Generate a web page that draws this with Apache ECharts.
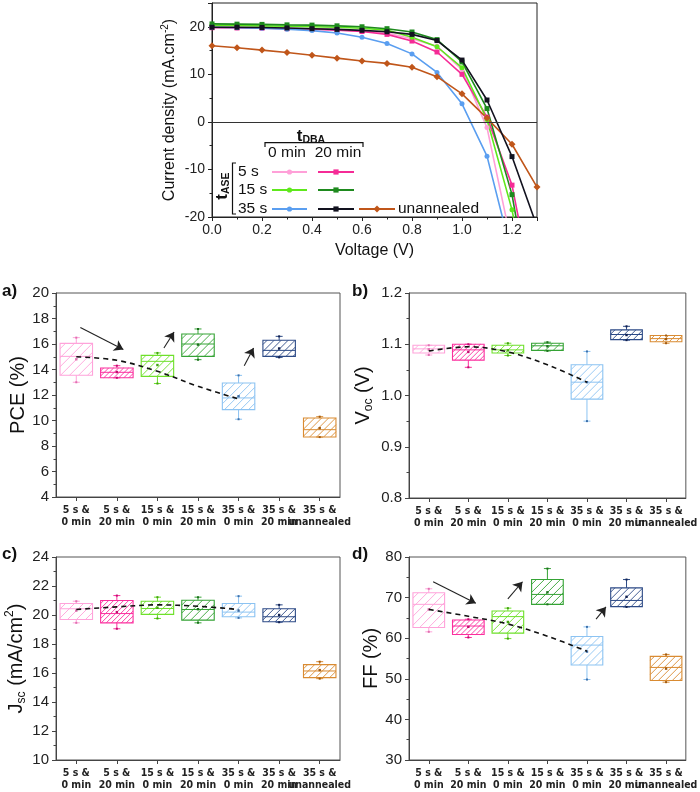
<!DOCTYPE html>
<html><head><meta charset="utf-8">
<script src="https://cdn.jsdelivr.net/npm/echarts@6/dist/echarts.min.js"></script>
<style>html,body{margin:0;padding:0;background:#fff}#c{width:700px;height:792px}</style>
</head><body><div id="c"></div>
<script>
// ---------- J-V curves ----------
const voltage = [0, 0.1, 0.2, 0.3, 0.4, 0.5, 0.6, 0.7, 0.8, 0.9, 1.0, 1.1, 1.2, 1.3];
const j5s0min   = [19.9, 19.85, 19.8, 19.7, 19.6, 19.4, 19.1, 18.7, 17.5, 15.9, 11.0, -1.2, -26];
const j5s20min  = [19.8, 19.75, 19.7, 19.6, 19.5, 19.3, 19.0, 18.4, 17.0, 14.7, 10.0, 1.0, -13.3, -40];
const j15s0min  = [20.3, 20.3, 20.2, 20.1, 20.0, 19.9, 19.7, 19.3, 17.8, 15.8, 11.4, 0.5, -18.5, -45];
const j15s20min = [20.6, 20.55, 20.5, 20.4, 20.35, 20.2, 20.0, 19.6, 18.9, 17.3, 12.6, 2.8, -15.3, -45];
const j35s0min  = [19.9, 19.8, 19.7, 19.5, 19.2, 18.7, 17.8, 16.5, 14.3, 10.4, 3.8, -7.2, -28];
const j35s20min = [19.9, 19.9, 19.85, 19.75, 19.6, 19.45, 19.25, 18.95, 18.4, 17.1, 13.0, 4.6, -7.3, -22];
const jUnann    = [16.0, 15.6, 15.1, 14.6, 14.0, 13.4, 12.8, 12.3, 11.5, 9.5, 5.9, 0.8, -4.7, -13.7];

// ---------- box statistics: [min, Q1, median, Q3, max, mean] ----------
const categories = ['5 s &\n0 min', '5 s &\n20 min', '15 s &\n0 min', '15 s &\n20 min', '35 s &\n0 min', '35 s &\n20 min', '35 s &\nunannealed'];
const pceStats = [
  [13.0, 13.55, 15.03, 16.05, 16.5, 14.8],
  [13.35, 13.35, 13.78, 14.12, 14.3, 13.8],
  [12.9, 13.46, 14.64, 15.11, 15.3, 14.35],
  [14.77, 15.03, 16.0, 16.78, 17.18, 15.95],
  [10.1, 10.85, 11.77, 12.94, 13.54, 11.9],
  [14.95, 15.03, 15.5, 16.29, 16.6, 15.65],
  [8.7, 8.71, 9.28, 10.2, 10.3, 9.4]
];
const vocStats = [
  [1.079, 1.083, 1.091, 1.098, 1.098, 1.090],
  [1.055, 1.069, 1.089, 1.100, 1.100, 1.085],
  [1.078, 1.083, 1.089, 1.098, 1.102, 1.088],
  [1.087, 1.088, 1.097, 1.102, 1.104, 1.096],
  [0.950, 0.993, 1.026, 1.060, 1.086, 1.026],
  [1.108, 1.109, 1.119, 1.128, 1.135, 1.118],
  [1.102, 1.105, 1.111, 1.117, 1.117, 1.110]
];
const jscStats = [
  [19.46, 19.69, 20.43, 20.79, 20.95, 20.3],
  [19.05, 19.46, 20.1, 21.0, 21.34, 20.2],
  [19.76, 20.04, 20.45, 20.95, 21.23, 20.5],
  [19.46, 19.65, 20.38, 21.02, 21.23, 20.4],
  [19.8, 19.88, 20.2, 20.79, 21.3, 20.3],
  [19.5, 19.53, 19.88, 20.43, 20.7, 20.0],
  [15.61, 15.68, 16.14, 16.58, 16.78, 16.2]
];
const ffStats = [
  [61.57, 62.63, 68.34, 71.19, 72.17, 67.1],
  [60.18, 60.9, 63.0, 64.5, 64.67, 62.8],
  [59.9, 61.24, 65.32, 66.7, 67.4, 64.0],
  [68.34, 68.34, 70.78, 74.45, 77.15, 71.3],
  [49.82, 53.41, 58.3, 60.42, 62.79, 56.7],
  [67.7, 67.77, 69.3, 72.4, 74.45, 70.2],
  [49.17, 49.58, 52.8, 55.53, 56.0, 52.5]
];
// dashed trend lines [category position, value]
const pceTrend = [[0, 15.0], [1, 14.72], [2, 13.86], [3, 12.68], [4, 11.69]];
const vocTrend = [[0, 1.087], [1, 1.095], [2, 1.085], [3, 1.06], [4, 1.026]];
const jscTrend = [[0, 20.38], [1, 20.56], [2, 20.7], [3, 20.6], [4, 20.38]];
const ffTrend  = [[0, 67.1], [1, 65.4], [2, 63.5], [3, 60.5], [4, 56.8]];
// arrows [start, end]
const pceArrows = [[[0.1, 17.3], [1.16, 15.56]], [[2.16, 15.69], [2.41, 16.94]], [[4.14, 14.3], [4.37, 15.69]]];
const ffArrows  = [[[0.11, 73.9], [1.19, 68.6]], [[2.0, 69.7], [2.37, 73.9]], [[4.23, 64.7], [4.48, 67.7]]];

const boxColors = ['#ffa3da', '#fb2f9e', '#6ee02a', '#35a335', '#8cc3f2', '#2c4a86', '#d98b32'];
const meanColors = ['#e070b0', '#c01070', '#40a010', '#1c701c', '#3c6ea8', '#102050', '#a05a10'];
const hatchSpacing = [9, 5, 8, 8, 8, 7, 7];

const curveColors = ['#ffa0d8', '#f52b96', '#5fe81c', '#1e8a1e', '#5a9ef0', '#12121f', '#c0561a'];
const FONT = 'Liberation Sans, Arial, sans-serif';

const chart = echarts.init(document.getElementById('c'));
function pairs(ys) { return ys.map((y, i) => [voltage[i], y]); }

const jvSets = [
  {d: j5s0min, sym: 'circle'}, {d: j5s20min, sym: 'rect'},
  {d: j15s0min, sym: 'circle'}, {d: j15s20min, sym: 'rect'},
  {d: j35s0min, sym: 'circle'}, {d: j35s20min, sym: 'rect'},
  {d: jUnann, sym: 'diamond'}
];
const series = [];
jvSets.forEach((s, k) => {
  series.push({
    type: 'line', xAxisIndex: 0, yAxisIndex: 0, data: pairs(s.d),
    symbol: s.sym, symbolSize: s.sym === 'diamond' ? 7 : 5, showSymbol: true,
    lineStyle: {color: curveColors[k], width: 1.6}, itemStyle: {color: curveColors[k]},
    clip: true, silent: true, animation: false, z: 3 + (k === 5 ? 1 : 0),
    markLine: k === 0 ? {silent: true, symbol: 'none', label: {show: false}, animation: false,
      lineStyle: {color: '#333', type: 'solid', width: 1}, data: [{yAxis: 0}]} : undefined
  });
});

function boxSeries(xi, yi, stats) {
  return {
    type: 'custom', xAxisIndex: xi, yAxisIndex: yi, animation: false, silent: true,
    data: stats.map((s, i) => [i].concat(s)),
    encode: {x: 0, y: [1, 5]},
    renderItem: function (params, api) {
      const i = api.value(0);
      const col = boxColors[i];
      const cx = api.coord([i, api.value(3)])[0];
      const bw = api.size([1, 0])[0] * 0.8;
      const y = k => api.coord([i, api.value(k)])[1];
      const yMin = y(1), yQ1 = y(2), yMed = y(3), yQ3 = y(4), yMax = y(5), yMean = y(6);
      const x0 = cx - bw / 2, x1 = cx + bw / 2;
      const ch = [];
      const sp = hatchSpacing[i];
      const top = yQ3, bot = yQ1;
      for (let c = x0 + top + sp * 0.6; c < x1 + bot; c += sp) {
        const xa = Math.max(x0, c - bot), xb = Math.min(x1, c - top);
        if (xb > xa) ch.push({type: 'line', shape: {x1: xa, y1: c - xa, x2: xb, y2: c - xb}, style: {stroke: col, lineWidth: 0.9}});
      }
      const ln = (a, b, c2, d) => ({type: 'line', shape: {x1: a, y1: b, x2: c2, y2: d}, style: {stroke: col, lineWidth: 1}});
      ch.push(ln(cx, yQ3, cx, yMax));
      ch.push(ln(cx, yQ1, cx, yMin));
      ch.push(ln(cx - 3.5, yMax, cx + 3.5, yMax));
      ch.push(ln(cx - 3.5, yMin, cx + 3.5, yMin));
      ch.push({type: 'rect', shape: {x: x0, y: yQ3, width: bw, height: yQ1 - yQ3}, style: {fill: 'none', stroke: col, lineWidth: 1.1}});
      ch.push(ln(x0, yMed, x1, yMed));
      ch.push({type: 'rect', shape: {x: cx - 1.2, y: yMean - 1.2, width: 2.4, height: 2.4}, style: {fill: meanColors[i]}});
      ch.push({type: 'rect', shape: {x: cx - 1, y: yMax - 1, width: 2, height: 2}, style: {fill: meanColors[i]}});
      ch.push({type: 'rect', shape: {x: cx - 1, y: yMin - 1, width: 2, height: 2}, style: {fill: meanColors[i]}});
      return {type: 'group', children: ch};
    }
  };
}
function trendSeries(xi, yi, data) {
  return {type: 'line', xAxisIndex: xi, yAxisIndex: yi, data: data, smooth: 0.35, symbol: 'none',
    lineStyle: {color: '#111', width: 1.6, type: [5, 4]}, silent: true, animation: false, z: 5};
}
function arrowSeries(xi, yi, arr) {
  return {type: 'lines', coordinateSystem: 'cartesian2d', xAxisIndex: xi, yAxisIndex: yi,
    symbol: ['none', 'arrow'], symbolSize: 9, silent: true, animation: false, z: 6,
    lineStyle: {color: '#222', width: 1.1, opacity: 1, curveness: 0},
    data: arr.map(a => ({coords: a}))};
}
series.push(boxSeries(1, 1, pceStats), trendSeries(5, 1, pceTrend), arrowSeries(5, 1, pceArrows));
series.push(boxSeries(2, 2, vocStats), trendSeries(6, 2, vocTrend));
series.push(boxSeries(3, 3, jscStats), trendSeries(7, 3, jscTrend));
series.push(boxSeries(4, 4, ffStats), trendSeries(8, 4, ffTrend), arrowSeries(8, 4, ffArrows));

const axCol = '#444';
function catAxis(g) {
  return {type: 'category', gridIndex: g, data: categories, boundaryGap: true,
    axisLine: {show: true, onZero: false, lineStyle: {color: axCol}}, axisTick: {show: true, alignWithLabel: true, length: 4, lineStyle: {color: axCol}},
    axisLabel: {interval: 0, fontFamily: 'Liberation Sans Narrow, DejaVu Sans Condensed, Lato, sans-serif', fontWeight: 'bold', fontSize: 10.5, color: '#222', lineHeight: 12.5, margin: 7},
    splitLine: {show: false}};
}
function hidX(g) { return {type: 'value', gridIndex: g, min: -0.5, max: 6.5, show: false}; }
function panelY(g, min, max, interval, name, rich, dec, gap) {
  return {type: 'value', gridIndex: g, min: min, max: max, interval: interval,
    name: name, nameLocation: 'middle', nameGap: gap, nameRotate: 90,
    nameTextStyle: {fontFamily: FONT, fontSize: 20, color: '#111', rich: rich},
    axisLine: {show: true, onZero: false, lineStyle: {color: axCol}},
    axisTick: {show: true, length: 4, lineStyle: {color: axCol}},
    minorTick: {show: true, splitNumber: 2, length: 2.5, lineStyle: {color: axCol}},
    splitLine: {show: false}, minorSplitLine: {show: false},
    axisLabel: {fontFamily: FONT, fontSize: 15, color: '#222', margin: 7, formatter: v => v.toFixed(dec)}};
}
const gridBase = {show: true, borderColor: '#555', borderWidth: 1, containLabel: false};

const sub = {a: {fontFamily: FONT, fontSize: 20, color: '#111', lineHeight: 24},
  s: {fontFamily: FONT, fontSize: 12, color: '#111', verticalAlign: 'bottom', lineHeight: 12},
  p: {fontFamily: FONT, fontSize: 12, color: '#111', verticalAlign: 'top', lineHeight: 12}};

function legSample(x1, x2, xm, y, col, sym) {
  const els = [{type: 'line', shape: {x1: x1, y1: y, x2: x2, y2: y}, style: {stroke: col, lineWidth: 1.8}}];
  if (sym === 'circle') els.push({type: 'circle', shape: {cx: xm, cy: y, r: 2.6}, style: {fill: col}});
  else if (sym === 'rect') els.push({type: 'rect', shape: {x: xm - 2.6, y: y - 2.6, width: 5.2, height: 5.2}, style: {fill: col}});
  else els.push({type: 'polygon', shape: {points: [[xm, y - 3.5], [xm + 3.5, y], [xm, y + 3.5], [xm - 3.5, y]]}, style: {fill: col}});
  return els;
}
const rowY = [172, 190, 209];
let legEls = [];
legEls = legEls.concat(legSample(272, 307, 289.5, rowY[0], curveColors[0], 'circle'));
legEls = legEls.concat(legSample(318, 354, 336, rowY[0], curveColors[1], 'rect'));
legEls = legEls.concat(legSample(272, 307, 289.5, rowY[1], curveColors[2], 'circle'));
legEls = legEls.concat(legSample(318, 354, 336, rowY[1], curveColors[3], 'rect'));
legEls = legEls.concat(legSample(272, 307, 289.5, rowY[2], curveColors[4], 'circle'));
legEls = legEls.concat(legSample(318, 354, 336, rowY[2], curveColors[5], 'rect'));
legEls = legEls.concat(legSample(359, 395, 377, rowY[2], curveColors[6], 'diamond'));
const txt = (x, y, t, align, extra) => Object.assign({type: 'text', x: x, y: y,
  style: {text: t, fontFamily: FONT, fontSize: 15.5, fill: '#111', align: align || 'left', verticalAlign: 'middle'}}, extra || {});
legEls.push(txt(238, rowY[0], '5 s'), txt(238, rowY[1], '15 s'), txt(238, rowY[2], '35 s'));
legEls.push(txt(398, rowY[2], 'unannealed'));
legEls.push(txt(287, 153, '0 min', 'center'), txt(338, 153, '20 min', 'center'));
legEls.push({type: 'polyline', shape: {points: [[265, 147], [265, 142.7], [363, 142.7], [363, 147]]}, style: {stroke: '#111', lineWidth: 1.2, fill: 'none'}});
legEls.push({type: 'polyline', shape: {points: [[236, 163], [232.5, 163], [232.5, 214], [236, 214]]}, style: {stroke: '#111', lineWidth: 1.2, fill: 'none'}});
const legRich = {t: {fontFamily: FONT, fontSize: 17, fontWeight: 'bold', fill: '#111', lineHeight: 20},
  s: {fontFamily: FONT, fontSize: 10.5, fontWeight: 'bold', fill: '#111', verticalAlign: 'bottom', lineHeight: 10}};
legEls.push({type: 'text', x: 311, y: 136, style: {text: '{t|t}{s|DBA}', rich: legRich, align: 'center', verticalAlign: 'middle'}});
legEls.push({type: 'text', x: 222, y: 186, rotation: Math.PI / 2, style: {text: '{t|t}{s|ASE}', rich: legRich, align: 'center', verticalAlign: 'middle'}});
const panelLbl = (x, y, t) => ({type: 'text', x: x, y: y, style: {text: t, fontFamily: FONT, fontSize: 17, fontWeight: 'bold', fill: '#111', verticalAlign: 'middle'}});
legEls.push(panelLbl(2, 291, 'a)'), panelLbl(352, 291, 'b)'), panelLbl(2, 554, 'c)'), panelLbl(352, 554, 'd)'));

const option = {
  animation: false,
  backgroundColor: '#fff',
  grid: [
    Object.assign({left: 212, top: 3, width: 325, height: 214}, gridBase, {borderColor: '#222'}),
    Object.assign({left: 56, top: 293, width: 284, height: 204}, gridBase),
    Object.assign({left: 409, top: 293, width: 281, height: 205}, gridBase),
    Object.assign({left: 56, top: 557, width: 284, height: 204}, gridBase),
    Object.assign({left: 409, top: 557, width: 281, height: 204}, gridBase)
  ],
  xAxis: [
    {type: 'value', gridIndex: 0, min: 0, max: 1.3, interval: 0.2,
      name: 'Voltage (V)', nameLocation: 'middle', nameGap: 26,
      nameTextStyle: {fontFamily: FONT, fontSize: 16, color: '#111'},
      axisLine: {show: true, onZero: false, lineStyle: {color: '#222'}},
      axisTick: {show: true, length: 4, lineStyle: {color: '#222'}},
      minorTick: {show: true, splitNumber: 2, length: 2.5, lineStyle: {color: '#222'}},
      splitLine: {show: false},
      axisLabel: {fontFamily: FONT, fontSize: 14, color: '#222', margin: 6, showMaxLabel: false, formatter: v => v.toFixed(1)}},
    catAxis(1), catAxis(2), catAxis(3), catAxis(4),
    hidX(1), hidX(2), hidX(3), hidX(4)
  ],
  yAxis: [
    {type: 'value', gridIndex: 0, min: -20, max: 25, interval: 10,
      name: '{a|Current density (mA.cm}{p|-2}{a|)}', nameLocation: 'middle', nameGap: 32, nameRotate: 90,
      nameTextStyle: {rich: {a: {fontFamily: FONT, fontSize: 16, color: '#111', lineHeight: 20},
        p: {fontFamily: FONT, fontSize: 10, color: '#111', verticalAlign: 'top', lineHeight: 10}}},
      axisLine: {show: true, onZero: false, lineStyle: {color: '#222'}},
      axisTick: {show: true, length: 4, lineStyle: {color: '#222'}},
      minorTick: {show: true, splitNumber: 2, length: 2.5, lineStyle: {color: '#222'}},
      splitLine: {show: false},
      axisLabel: {fontFamily: FONT, fontSize: 14, color: '#222', margin: 7, showMaxLabel: false}},
    panelY(1, 4, 20, 2, 'PCE (%)', null, 0, 26),
    panelY(2, 0.8, 1.2, 0.1, '{a|V}{s|oc}{a| (V)}', sub, 1, 34),
    panelY(3, 10, 24, 2, '{a|J}{s|sc}{a| (mA/cm}{p|2}{a|)}', sub, 0, 28),
    panelY(4, 30, 80, 10, 'FF (%)', null, 0, 27)
  ],
  series: series,
  graphic: legEls
};
chart.setOption(option);
</script></body></html>
